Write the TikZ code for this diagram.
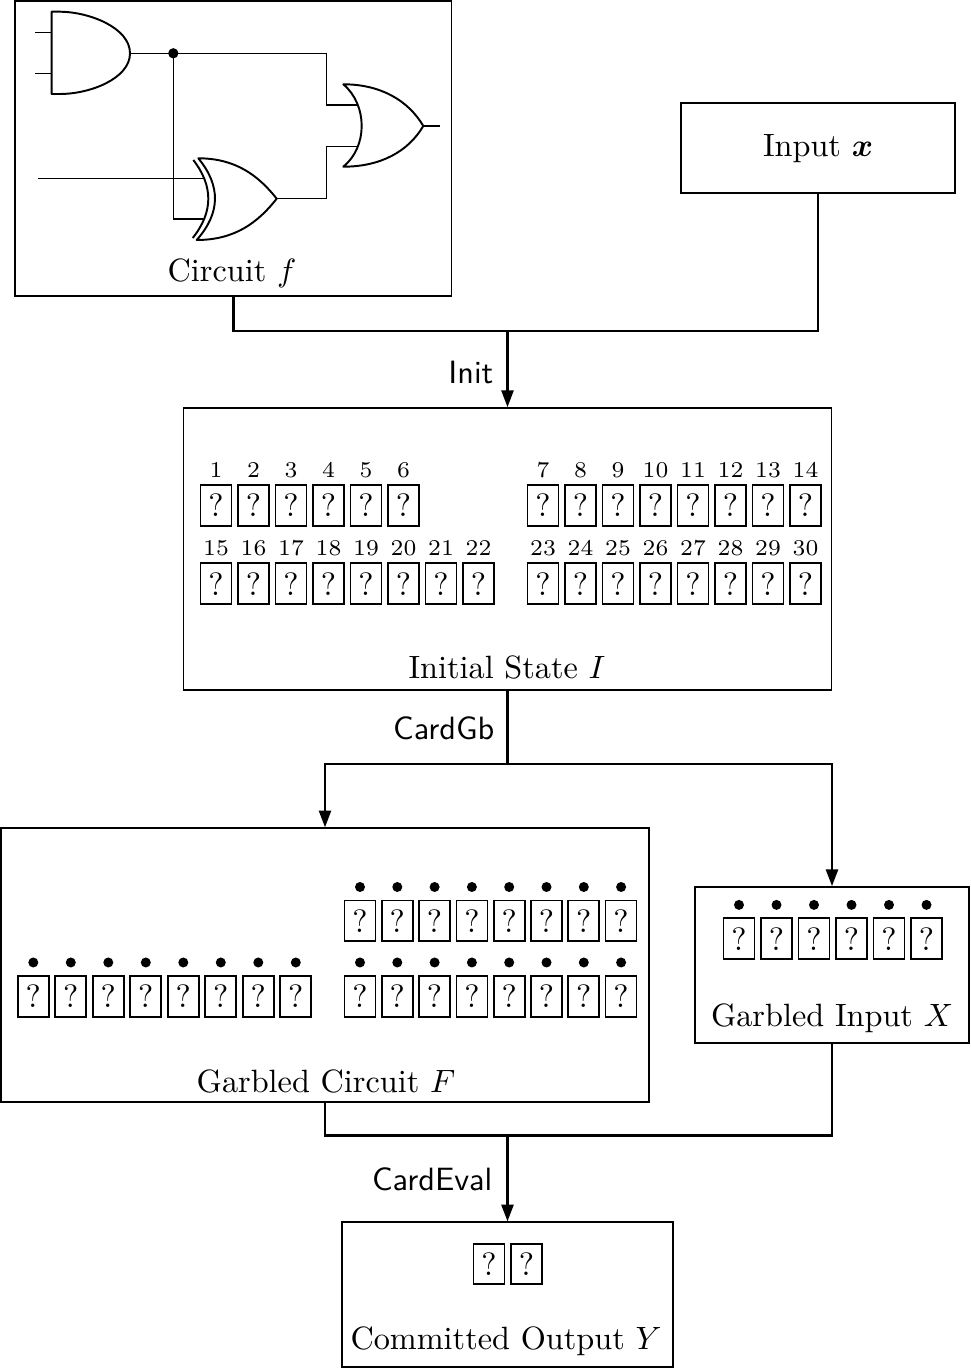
\documentclass[tikz,border=0pt]{standalone}
\usepackage{amsmath}
\usetikzlibrary{arrows.meta}
\newcommand\pxu{0.31pt}
\tikzset{
  box/.style={draw, line width=0.5pt, inner sep=0pt},
  conn/.style={line width=0.8pt},
  arr/.style={conn, -{Triangle[length=5.2pt,width=3.7pt]}},
  card/.style={draw, line width=0.55pt, minimum width=31*\pxu, minimum height=40.7*\pxu, inner sep=0pt},
  num/.style={font=\scriptsize, anchor=base, inner sep=0pt},
  lbl/.style={anchor=base, inner sep=0pt},
  op/.style={font=\sffamily, anchor=base east, inner sep=0pt},
  gate/.style={line width=0.6pt, line join=round},
  wire/.style={line width=0.38pt},
  dotmark/.style={fill=black}
}
\begin{document}
\begin{tikzpicture}[x=0.31pt,y=-0.31pt]
\useasboundingbox (0,0) rectangle (971,1368);

% ---------- boxes ----------
\node[box, minimum width=436.7*\pxu, minimum height=295*\pxu] (circ) at (233.3,148.5) {};
\node[box, minimum width=274*\pxu, minimum height=90*\pxu] (inp) at (818,148) {};
\node[box, minimum width=648*\pxu, minimum height=282*\pxu] (init) at (507.5,549) {};
\node[box, minimum width=648*\pxu, minimum height=274*\pxu] (gc) at (325,965.2) {};
\node[box, minimum width=274*\pxu, minimum height=156*\pxu] (gi) at (832,965) {};
\node[box, minimum width=330.4*\pxu, minimum height=144.5*\pxu] (out) at (507.5,1294.5) {};

% ---------- box titles ----------
\node[lbl] (circt) at (232,281.7) {Circuit $f$};
\node[lbl] (inpt) at (818,157) {Input $\boldsymbol{x}$};
\node[lbl] (initt) at (507,678.3) {Initial State $I$};
\node[lbl] (gct) at (326,1092.5) {Garbled Circuit $F$};
\node[lbl] (git) at (832,1026.7) {Garbled Input $X$};
\node[lbl] (outt) at (506,1349.3) {Committed Output $Y$};

% ---------- circuit ----------
\coordinate (inA) at (35,32.3);
\coordinate (inB) at (35,73.3);
\coordinate (inC) at (38.3,178.3);
\coordinate (andA) at (51.7,32.3);
\coordinate (andB) at (51.7,73.3);
\coordinate (andO) at (130,53.3);
\coordinate (split) at (173.3,53.3);
\coordinate (xA) at (204,178.3);
\coordinate (xB) at (204,219);
\coordinate (xO) at (276.7,198.7);
\coordinate (orA) at (358,105);
\coordinate (orB) at (356.7,146.7);
\coordinate (orO) at (423.3,126);
\coordinate (outW) at (440,126);

% AND gate
\draw[gate] (51.7,11.7) -- (60,11.7) .. controls (90,12) and (130,28) .. (andO)
  .. controls (130,78.6) and (90,94) .. (60,94) -- (51.7,94) -- cycle;
% XOR gate
\draw[gate] (198.3,158.3) .. controls (235,158.3) and (258,175) .. (xO)
  .. controls (258,222.4) and (235,240) .. (196.7,240)
  .. controls (220.8,212.8) and (220.8,185.5) .. cycle;
\draw[gate] (193.3,160) .. controls (213.4,186) and (213.4,212) .. (192.7,238);
% OR gate
\draw[gate] (343.3,84.3) .. controls (380,84.3) and (408,100) .. (orO)
  .. controls (408,152) and (380,166.7) .. (343.3,166.7)
  .. controls (367.8,147) and (367.8,105) .. cycle;

% wires
\draw[wire] (inA) -- (andA);
\draw[wire] (inB) -- (andB);
\draw[wire] (inC) -- (xA);
\draw[wire] (andO) -- (split);
\draw[wire] (split) -| (326.7,105) -- (orA);
\draw[wire] (split) |- (xB);
\draw[wire] (xO) -| (326.7,146.7) -- (orB);
\draw[wire] (orO) -- (outW);
\fill[dotmark] (split) circle[radius=1.6pt];

% ---------- initial state cards ----------
\foreach \i in {1,...,6} {\node[card] (s\i) at ({216+37.5*(\i-1)},505.5) {?};}
\foreach \i in {7,...,14} {\node[card] (s\i) at ({543+37.5*(\i-7)},505.5) {?};}
\foreach \i in {15,...,22} {\node[card] (s\i) at ({216+37.5*(\i-15)},583.7) {?};}
\foreach \i in {23,...,30} {\node[card] (s\i) at ({543+37.5*(\i-23)},583.7) {?};}
\foreach \i in {1,...,30} {\node[num] (n\i) at ([yshift=2.1pt]s\i.north) {\i};}

% ---------- garbled circuit cards ----------
\foreach \k in {1,...,8} {
  \node[card] (gl\k) at ({33.3+37.5*(\k-1)},996.3) {?};
  \node[card] (gt\k) at ({360+37.3*(\k-1)},920.8) {?};
  \node[card] (gb\k) at ({360+37.3*(\k-1)},996.3) {?};
  \fill[dotmark] ([yshift=3.9pt]gl\k.north) circle[radius=1.55pt];
  \fill[dotmark] ([yshift=3.9pt]gt\k.north) circle[radius=1.55pt];
  \fill[dotmark] ([yshift=3.9pt]gb\k.north) circle[radius=1.55pt];
}

% ---------- garbled input cards ----------
\foreach \k in {1,...,6} {
  \node[card] (gi\k) at ({739+37.5*(\k-1)},938.7) {?};
  \fill[dotmark] ([yshift=3.9pt]gi\k.north) circle[radius=1.55pt];
}

% ---------- output cards ----------
\node[card] (o1) at (489,1264) {?};
\node[card] (o2) at (526.5,1264) {?};

% ---------- connectors ----------
\coordinate (j1) at (507.5,331);
\draw[conn] (circ.south) |- (j1) -| (inp.south);
\draw[arr] (j1) -- (init.north);
\node[op] (initl) at (494,383) {Init};

\coordinate (j2) at (507.5,764);
\draw[conn] (init.south) -- (j2);
\draw[arr] (j2) -| (gc.north);
\draw[arr] (j2) -| (gi.north);
\node[op] (gbl) at (495,739) {CardGb};

\coordinate (j3) at (507.5,1135.7);
\draw[conn] (gc.south) |- (j3) -| (gi.south);
\draw[arr] (j3) -- (out.north);
\node[op] (evl) at (493,1190) {CardEval};
\end{tikzpicture}
\end{document}
